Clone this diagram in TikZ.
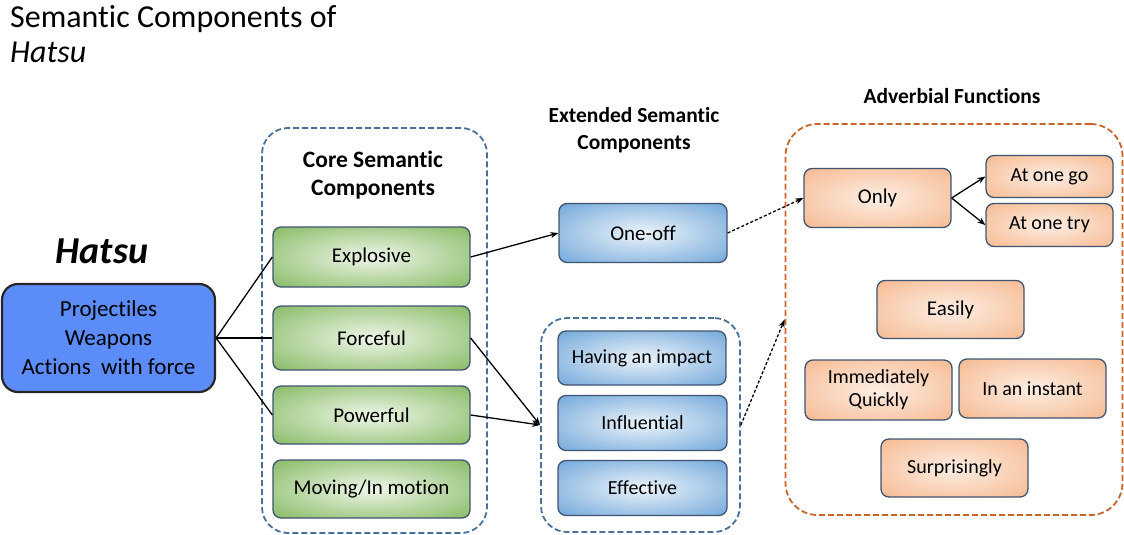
\documentclass[tikz,border=0pt]{standalone}
\usepackage{fontspec}
\setmainfont[Ligatures=NoCommon]{Carlito}
\usetikzlibrary{arrows.meta}
\definecolor{gout}{RGB}{112,173,71}
\definecolor{gin}{RGB}{238,246,232}
\definecolor{bout}{RGB}{86,150,210}
\definecolor{bin}{RGB}{236,244,251}
\definecolor{oout}{RGB}{244,174,126}
\definecolor{oin}{RGB}{253,238,228}
\definecolor{bordc}{RGB}{62,84,112}
\definecolor{hatsufill}{RGB}{92,140,248}
\definecolor{dashblue}{RGB}{74,112,152}
\definecolor{dashorange}{RGB}{200,100,40}
\pgfdeclareradialshading{greenglow}{\pgfpoint{0bp}{0bp}}{color(0bp)=(gin); color(44bp)=(gout); color(50bp)=(gout)}
\pgfdeclareradialshading{blueglow}{\pgfpoint{0bp}{0bp}}{color(0bp)=(bin); color(44bp)=(bout); color(50bp)=(bout)}
\pgfdeclareradialshading{orangeglow}{\pgfpoint{0bp}{0bp}}{color(0bp)=(oin); color(44bp)=(oout); color(50bp)=(oout)}
\begin{document}
\begin{tikzpicture}[x=1pt,y=-1pt,
  sz/.style 2 args={minimum width=#1pt, minimum height=#2pt, inner sep=0pt},
  basebox/.style={draw=bordc, line width=1.3pt, rounded corners=8pt, align=center, font=\fontsize{21}{24}\selectfont},
  greenbox/.style={basebox, shading=greenglow},
  bluebox/.style={basebox, shading=blueglow},
  orangebox/.style={basebox, shading=orangeglow},
  container/.style={line width=1.8pt, dash pattern=on 6pt off 3pt, rounded corners=26pt, inner sep=0pt},
  heading/.style={font=\bfseries\fontsize{21.5}{27}\selectfont, align=center},
  link/.style={line width=1.3pt, black},
  arr/.style={link, -{Stealth[length=8pt,width=6pt]}},
  darr/.style={arr, dash pattern=on 3pt off 2pt}
]
\useasboundingbox (0,0) rectangle (1124,535);

% title
\node[anchor=base west, inner sep=0pt, font=\fontsize{32}{36}\selectfont] (title1) at (10,28) {Semantic Components of};
\node[anchor=base west, inner sep=0pt, font=\itshape\fontsize{32}{36}\selectfont] (title2) at (10,63) {Hatsu};

% containers
\node[container, draw=dashblue, sz={225}{405}] (core) at (374.5,330.5) {};
\node[container, draw=dashblue, sz={199}{214}] (ext) at (640.5,425) {};
\node[container, draw=dashorange, rounded corners=32pt, sz={337}{391}] (adv) at (954,319.5) {};

% headings
\node[heading, font=\bfseries\fontsize{23.5}{28}\selectfont] (hcore) at (373,175) {Core Semantic\\Components};
\node[heading] (hext) at (634,130) {Extended Semantic\\Components};
\node[heading] (hadv) at (952,96) {Adverbial Functions};

% Hatsu
\node[font=\bfseries\itshape\fontsize{38}{42}\selectfont] (hlabel) at (102,251) {Hatsu};
\node[draw=black!85, line width=2.2pt, fill=hatsufill, rounded corners=16pt, sz={213}{108}, align=center,
      font=\fontsize{23}{29}\selectfont] (hatsu) at (108.5,338) {Projectiles\\Weapons\\Actions\ \ with force};

% core boxes
\node[greenbox, sz={197}{60}] (explosive) at (371.5,257) {Explosive};
\node[greenbox, sz={197}{64}] (forceful) at (371.5,338) {Forceful};
\node[greenbox, sz={197}{58}] (powerful) at (371.5,415) {Powerful};
\node[greenbox, sz={197}{58}] (moving) at (371.5,489) {Moving/In motion};

% extended
\node[bluebox, sz={168}{59}] (oneoff) at (643,233) {One-off};
\node[bluebox, sz={168}{54}, font=\fontsize{20}{24}\selectfont] (impact) at (642,358) {Having an impact};
\node[bluebox, sz={169}{55}, font=\fontsize{20}{24}\selectfont] (influential) at (642.5,423) {Influential};
\node[bluebox, sz={169}{55}, font=\fontsize{20}{24}\selectfont] (effective) at (642.5,488) {Effective};

% adverbial
\node[orangebox, sz={147}{59}] (only) at (877.5,198) {Only};
\node[orangebox, sz={127}{42}, font=\fontsize{20}{24}\selectfont] (atonego) at (1049.5,176.5) {At one go};
\node[orangebox, sz={127}{43}, font=\fontsize{20}{24}\selectfont] (atonetry) at (1049.5,225) {At one try};
\node[orangebox, sz={147}{58}] (easily) at (950.5,309.5) {Easily};
\node[orangebox, sz={147}{60}, font=\fontsize{20}{23}\selectfont] (immed) at (878.5,390) {Immediately\\Quickly};
\node[orangebox, sz={147}{59}, font=\fontsize{20}{24}\selectfont] (instant) at (1032.5,388.5) {In an instant};
\node[orangebox, sz={147}{58}, font=\fontsize{20}{24}\selectfont] (surpr) at (954.5,468) {Surprisingly};

% connectors
\draw[link] (hatsu.east) -- (explosive.west);
\draw[link] (hatsu.east) -- (forceful.west);
\draw[link] (hatsu.east) -- (powerful.west);
\draw[arr] (explosive.east) -- (oneoff.west);
\draw[arr] (forceful.east) -- (ext.west);
\draw[arr] (powerful.east) -- (ext.west);
\draw[darr] (oneoff.east) -- (only.west);
\draw[darr] (ext.east) -- (adv.west);
\draw[arr] (only.east) -- (atonego.west);
\draw[arr] (only.east) -- (atonetry.west);
\end{tikzpicture}
\end{document}
